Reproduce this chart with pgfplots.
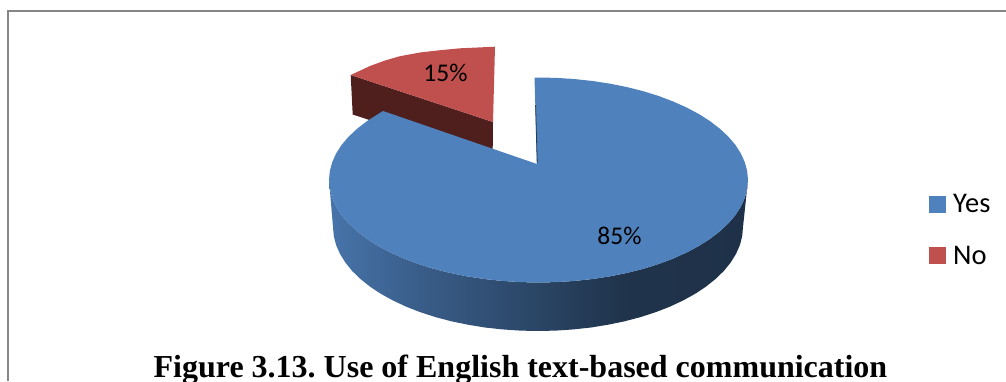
\documentclass[border=0pt]{standalone}
\usepackage{pgfplots}
\pgfplotsset{compat=1.18}
\usepackage{fontspec}
\setmainfont{Carlito}
\newfontfamily\titlefont{Liberation Serif}
\definecolor{yesblue}{HTML}{4F81BD}
\definecolor{nored}{HTML}{C0504D}
\definecolor{nodark}{HTML}{4F1F1D}
\definecolor{framegray}{HTML}{868686}
% side wall of the large slice: the central 25bp--75bp span covers the wall's width
\pgfdeclarehorizontalshading{wallshade}{100bp}{
  color(0bp)=(yesblue!90!black);
  color(25bp)=(yesblue!90!black);
  color(36bp)=(yesblue!72!black);
  color(45bp)=(yesblue!60!black);
  color(60bp)=(yesblue!40!black);
  color(75bp)=(yesblue!38!black);
  color(100bp)=(yesblue!38!black)}
\begin{document}
\frenchspacing
\begin{tikzpicture}
\useasboundingbox (0,0) rectangle (1006pt,381pt);
\begin{axis}[
  at={(0,0)}, anchor=south west,
  scale only axis, width=1006pt, height=381pt,
  xmin=0, xmax=1006, ymin=0, ymax=381, y dir=reverse,
  axis lines=none, clip=true,
]
% chart frame
\addplot[framegray, line width=2pt, forget plot] coordinates {(8.3,381) (8.3,10.7) (1006,10.7)};

% No slice: side wall, then top face
\addplot[fill=nodark, draw=none, forget plot] coordinates {
  (350.7,75) (493,122) (492.7,150) (400,130) (352.7,114.5)} -- cycle;
\addplot[fill=nored, draw=none, forget plot] coordinates {
  (493,122) (495,46.7) (460,48.3) (440,50.2) (420,52.5) (400,56.2) (385,60.5) (370,66) (350.7,75)} -- cycle;

% Yes slice: side wall
\addplot[shading=wallshade, draw=none, forget plot] coordinates {
  (748,180) (747.2,188.9) (744.8,197.8) (740.9,206.5) (735.4,215.1) (728.4,223.3) (719.9,231.25) (710.1,238.8)
  (699.0,245.9) (686.6,252.5) (673.2,258.5) (658.7,264.0) (643.3,268.8) (627.0,272.9) (610.1,276.3) (592.7,279.0)
  (574.9,280.9) (556.8,282.1) (538.5,282.5) (520.2,282.1) (502.1,280.9) (484.3,279.0) (466.9,276.3) (450.0,272.9)
  (433.75,268.8) (418.3,264.0) (403.8,258.5) (390.4,252.5) (378.0,245.9) (366.9,238.8) (357.1,231.25) (348.6,223.3)
  (341.6,215.1) (336.1,206.5) (332.2,197.8) (329.8,188.9) (329,180)
  (333,227) (333.8,236.1) (336.1,245.1) (340,253.9) (345.4,262.6) (352.2,271.0) (360.5,279) (370.1,286.7)
  (381,293.9) (393.0,300.5) (406.2,306.7) (420.4,312.2) (435.5,317.1) (451.4,321.3) (467.9,324.7) (485,327.5)
  (502.4,329.4) (520.1,330.6) (538,331) (555.9,330.6) (573.6,329.4) (591,327.5) (608.1,324.7) (624.6,321.3)
  (640.5,317.1) (655.6,312.2) (669.8,306.7) (683,300.5) (695,293.9) (705.9,286.7) (715.5,279) (723.8,271)
  (730.6,262.6) (736,253.9) (739.9,245.1) (742.2,236.1) (743,227)} -- cycle;

% Yes slice: top face
\addplot[fill=yesblue, draw=none, forget plot] coordinates {
  (537,164) (534.5,77.6) (538.5,77.5) (556.8,77.9) (574.9,79.1) (592.7,81.0) (610.1,83.7) (627.0,87.1) (643.3,91.2)
  (658.7,96.0) (673.2,101.5) (686.6,107.5) (699.0,114.1) (710.1,121.2) (719.9,128.75) (728.4,136.7) (735.4,144.9)
  (740.9,153.5) (744.8,162.2) (747.2,171.1) (748,180) (747.2,188.9) (744.8,197.8) (740.9,206.5) (735.4,215.1)
  (728.4,223.3) (719.9,231.25) (710.1,238.8) (699.0,245.9) (686.6,252.5) (673.2,258.5) (658.7,264.0) (643.3,268.8)
  (627.0,272.9) (610.1,276.3) (592.7,279.0) (574.9,280.9) (556.8,282.1) (538.5,282.5) (520.2,282.1) (502.1,280.9)
  (484.3,279.0) (466.9,276.3) (450.0,272.9) (433.75,268.8) (418.3,264.0) (403.8,258.5) (390.4,252.5) (378.0,245.9)
  (366.9,238.8) (357.1,231.25) (348.6,223.3) (341.6,215.1) (336.1,206.5) (332.2,197.8) (329.8,188.9) (329,180)
  (329.8,171.1) (332.2,162.2) (336.1,153.5) (341.6,144.9) (348.6,136.7) (357.1,128.75) (366.9,121.2) (378.0,114.1)
  (383,111)} -- cycle;
% inner wall seen edge-on
\addplot[yesblue!45!black, line width=0.8pt, forget plot] coordinates {(535.6,105) (537.2,163)};

% legend keys
\addplot[fill=yesblue, draw=none, forget plot] coordinates {(929,196) (946,196) (946,213) (929,213)} -- cycle;
\addplot[fill=nored, draw=none, forget plot] coordinates {(929,247) (946,247) (946,264) (929,264)} -- cycle;

\node[anchor=base, font=\fontsize{25.5}{30}\selectfont] at (axis cs:445.5,81) {15\%};
\node[anchor=base, font=\fontsize{25.5}{30}\selectfont] at (axis cs:619.5,244) {85\%};
\node[anchor=base west, inner sep=0pt, font=\fontsize{28.5}{32}\selectfont] at (axis cs:953,212.5) {Yes};
\node[anchor=base west, inner sep=0pt, font=\fontsize{28.5}{32}\selectfont] at (axis cs:953,264) {No};
\node[anchor=base, inner sep=0pt, font=\titlefont\bfseries\fontsize{32}{36}\selectfont] at (axis cs:520.5,377.7)
  {Figure 3.13. Use of English text-based communication};
\end{axis}
\end{tikzpicture}
\end{document}
